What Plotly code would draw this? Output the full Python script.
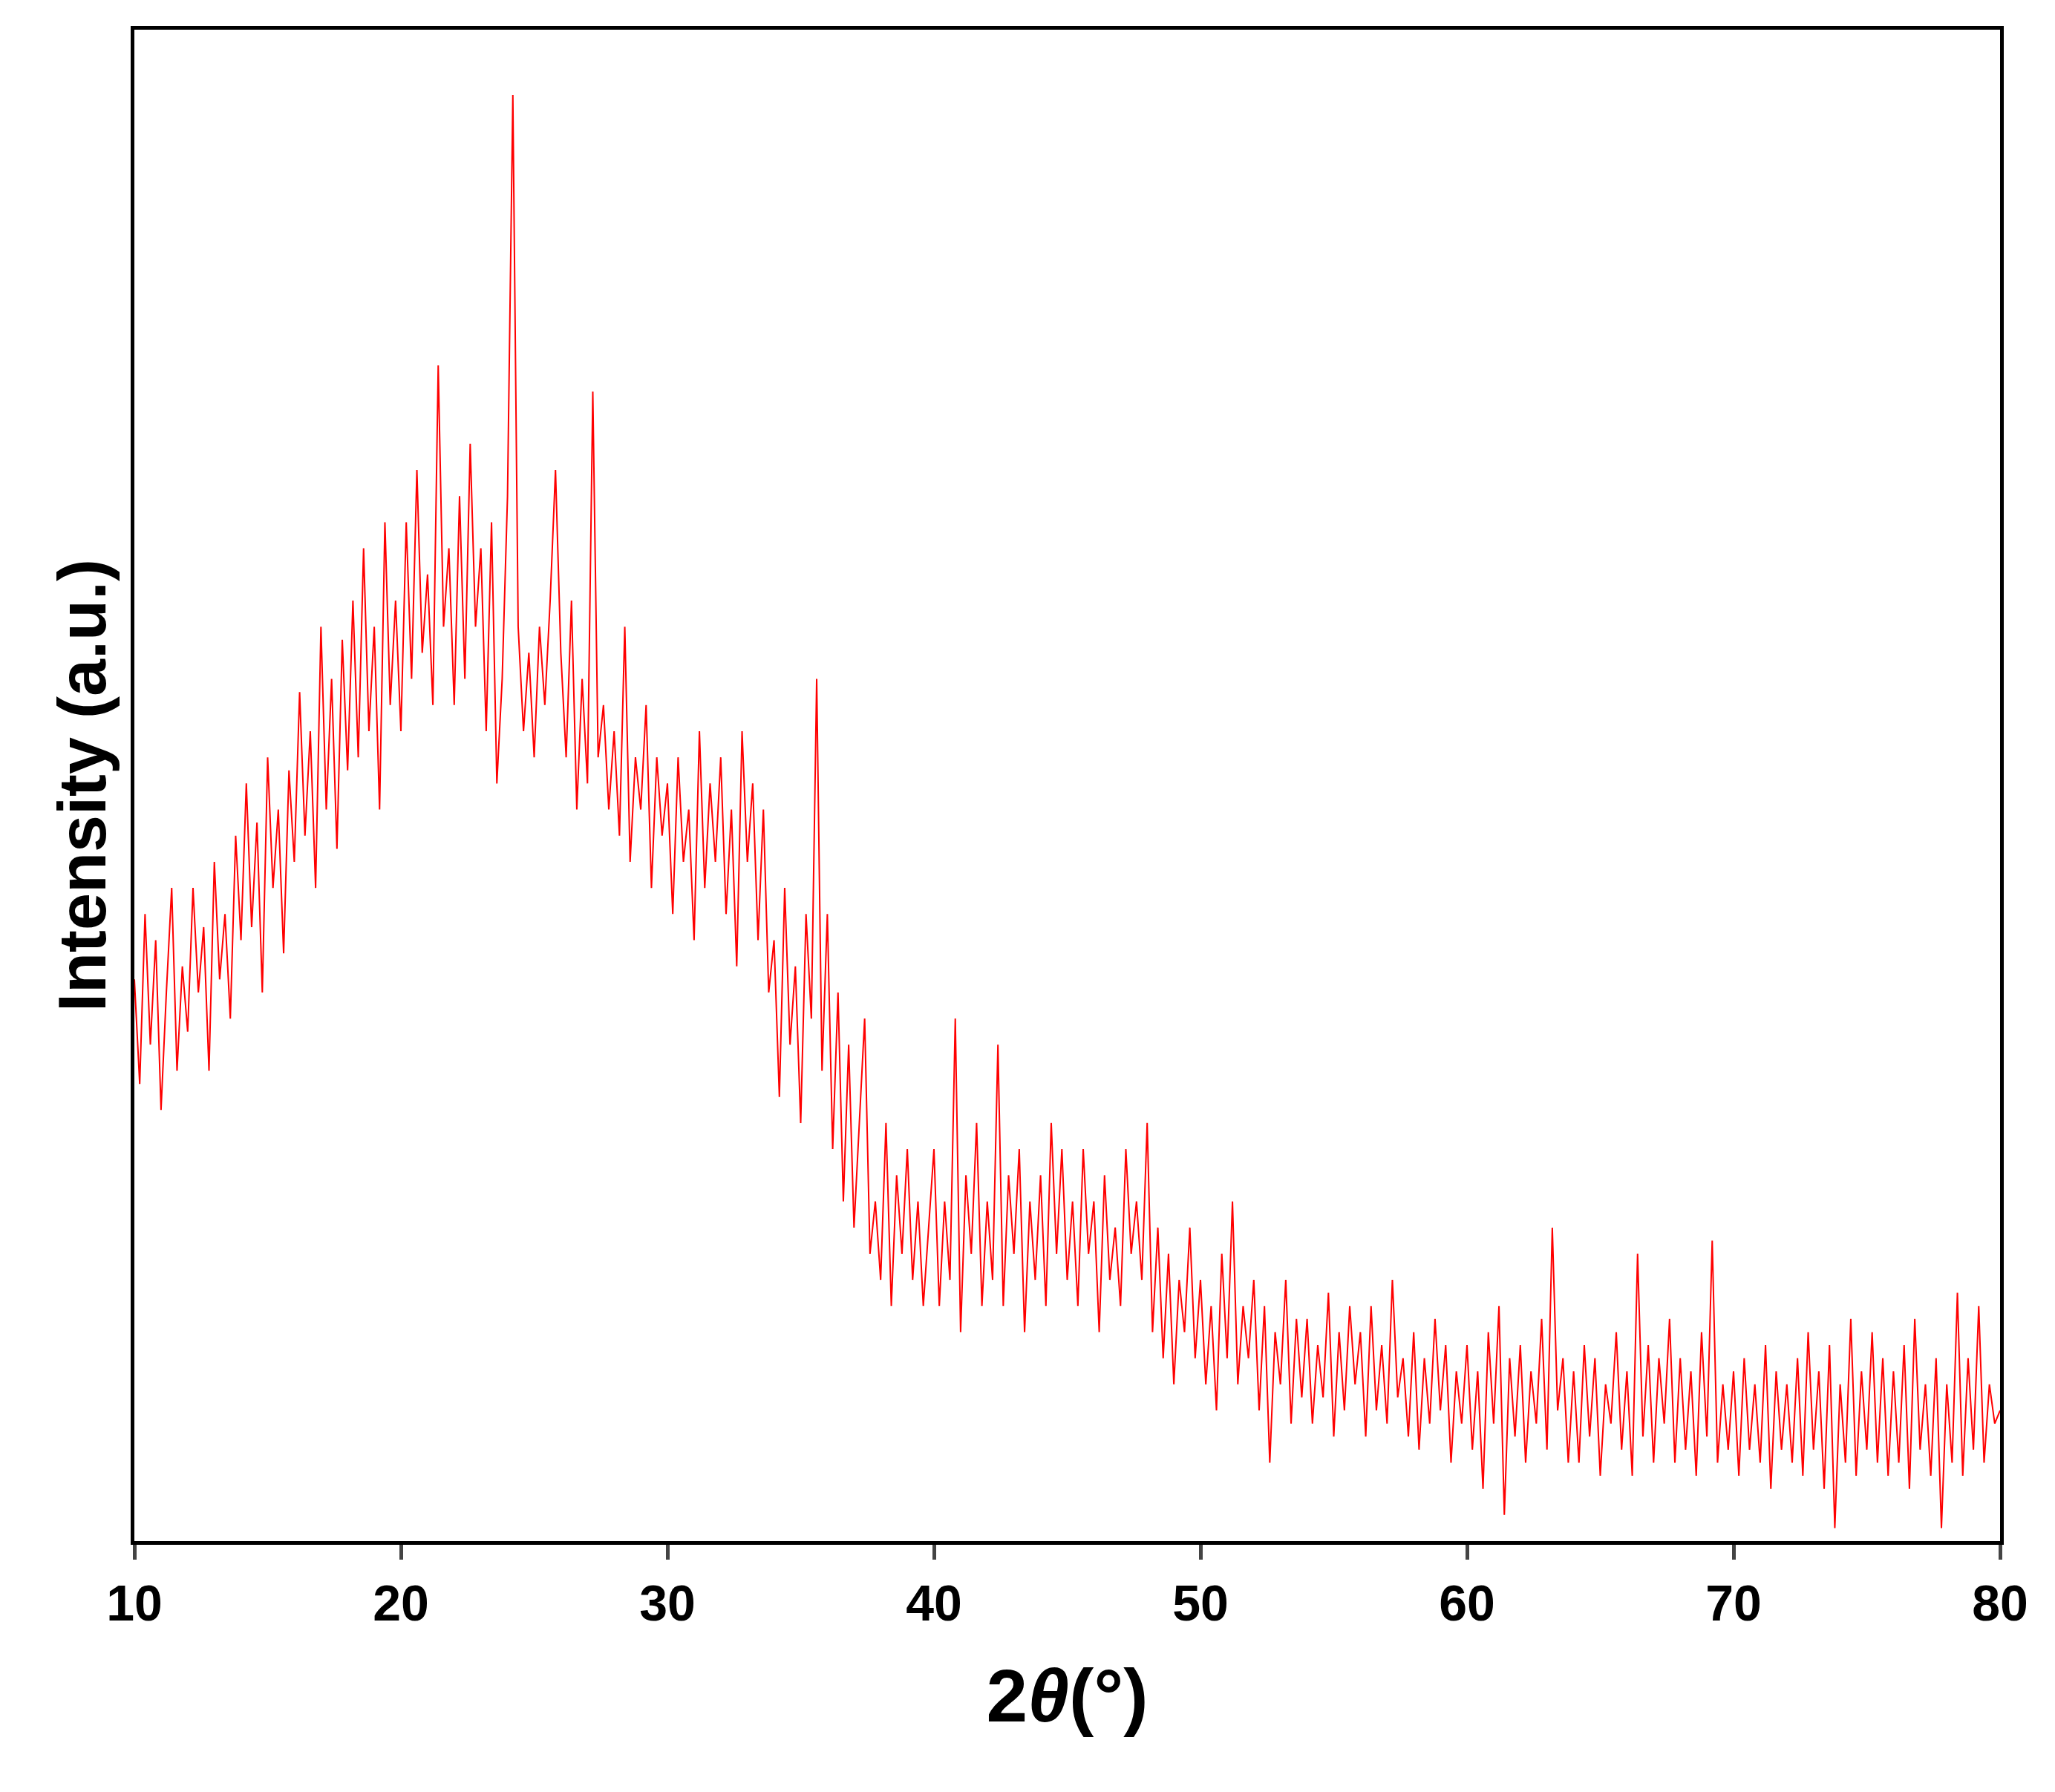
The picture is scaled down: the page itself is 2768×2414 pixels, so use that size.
import numpy as np
import plotly.graph_objects as go

two_theta_start = 10.0
two_theta_end = 80.0
n_points = 351
intensity = [
430,350,480,380,460,330,420,500,360,440,
390,500,420,470,360,520,430,480,400,540,
460,580,470,550,420,600,500,560,450,590,
520,650,540,620,500,700,560,660,530,690,
590,720,600,760,620,700,560,780,640,720,
620,780,660,820,680,740,640,900,700,760,
640,800,660,840,700,760,620,780,580,660,
800,1107,700,620,680,600,700,640,720,820,
680,600,720,560,660,580,880,600,640,560,
620,540,700,520,600,560,640,500,600,540,
580,480,600,520,560,460,620,500,580,520,
600,480,560,440,620,520,580,460,560,420,
460,340,500,380,440,320,480,400,660,360,
480,300,420,260,380,240,320,400,220,260,
200,320,180,280,220,300,200,260,180,240,
300,180,260,200,400,160,280,220,320,180,
260,200,380,180,280,220,300,160,260,200,
280,180,320,220,300,200,260,180,300,220,
260,160,280,200,240,180,300,220,260,200,
320,160,240,140,220,120,200,160,240,140,
200,120,180,100,220,140,260,120,180,140,
200,100,180,60,160,120,200,90,170,110,
170,90,150,110,190,80,160,100,180,120,
160,80,180,100,150,90,200,110,140,80,
160,70,140,90,170,100,150,60,130,90,
150,70,130,40,160,90,180,20,140,80,
150,60,130,90,170,70,240,100,140,60,
130,60,150,80,140,50,120,90,160,70,
130,50,220,80,150,60,140,90,170,60,
140,70,130,50,160,80,230,60,120,70,
130,50,140,70,120,60,150,40,130,70,
120,60,140,50,160,70,130,40,150,10,
120,60,170,50,130,70,160,60,140,50,
130,60,150,40,170,70,120,50,140,10,
120,60,190,50,140,70,180,60,120,90,
100]
two_theta = np.linspace(two_theta_start, two_theta_end, n_points)
x_ticks = [10, 20, 30, 40, 50, 60, 70, 80]

fig = go.Figure(go.Scatter(x=two_theta, y=intensity, mode="lines",
                           line=dict(color="#ff0000", width=2)))
font_fam = "Arial, Liberation Sans, sans-serif"
fig.update_layout(
    width=2768, height=2414,
    margin=dict(l=173, r=82, t=32, b=346),
    plot_bgcolor="white", paper_bgcolor="white", showlegend=False,
    font=dict(family=font_fam, color="black"),
)
fig.update_xaxes(range=[10, 80], tickvals=x_ticks, ticks="outside", ticklen=20, tickwidth=5,
                 showline=True, linewidth=5, linecolor="black", mirror=True, showgrid=False,
                 zeroline=False, tickfont=dict(size=68, family=font_fam, weight="bold"),
                 title=dict(text="<b>2</b><b><i>θ</i></b><b>(°)</b>", font=dict(size=100), standoff=55))
fig.update_yaxes(range=[0, 1157], showticklabels=False, ticks="", showline=True, linewidth=5,
                 linecolor="black", mirror=True, showgrid=False, zeroline=False,
                 title=dict(text="<b>Intensity (a.u.)</b>", font=dict(size=90), standoff=5))
fig.write_html("out.html")
